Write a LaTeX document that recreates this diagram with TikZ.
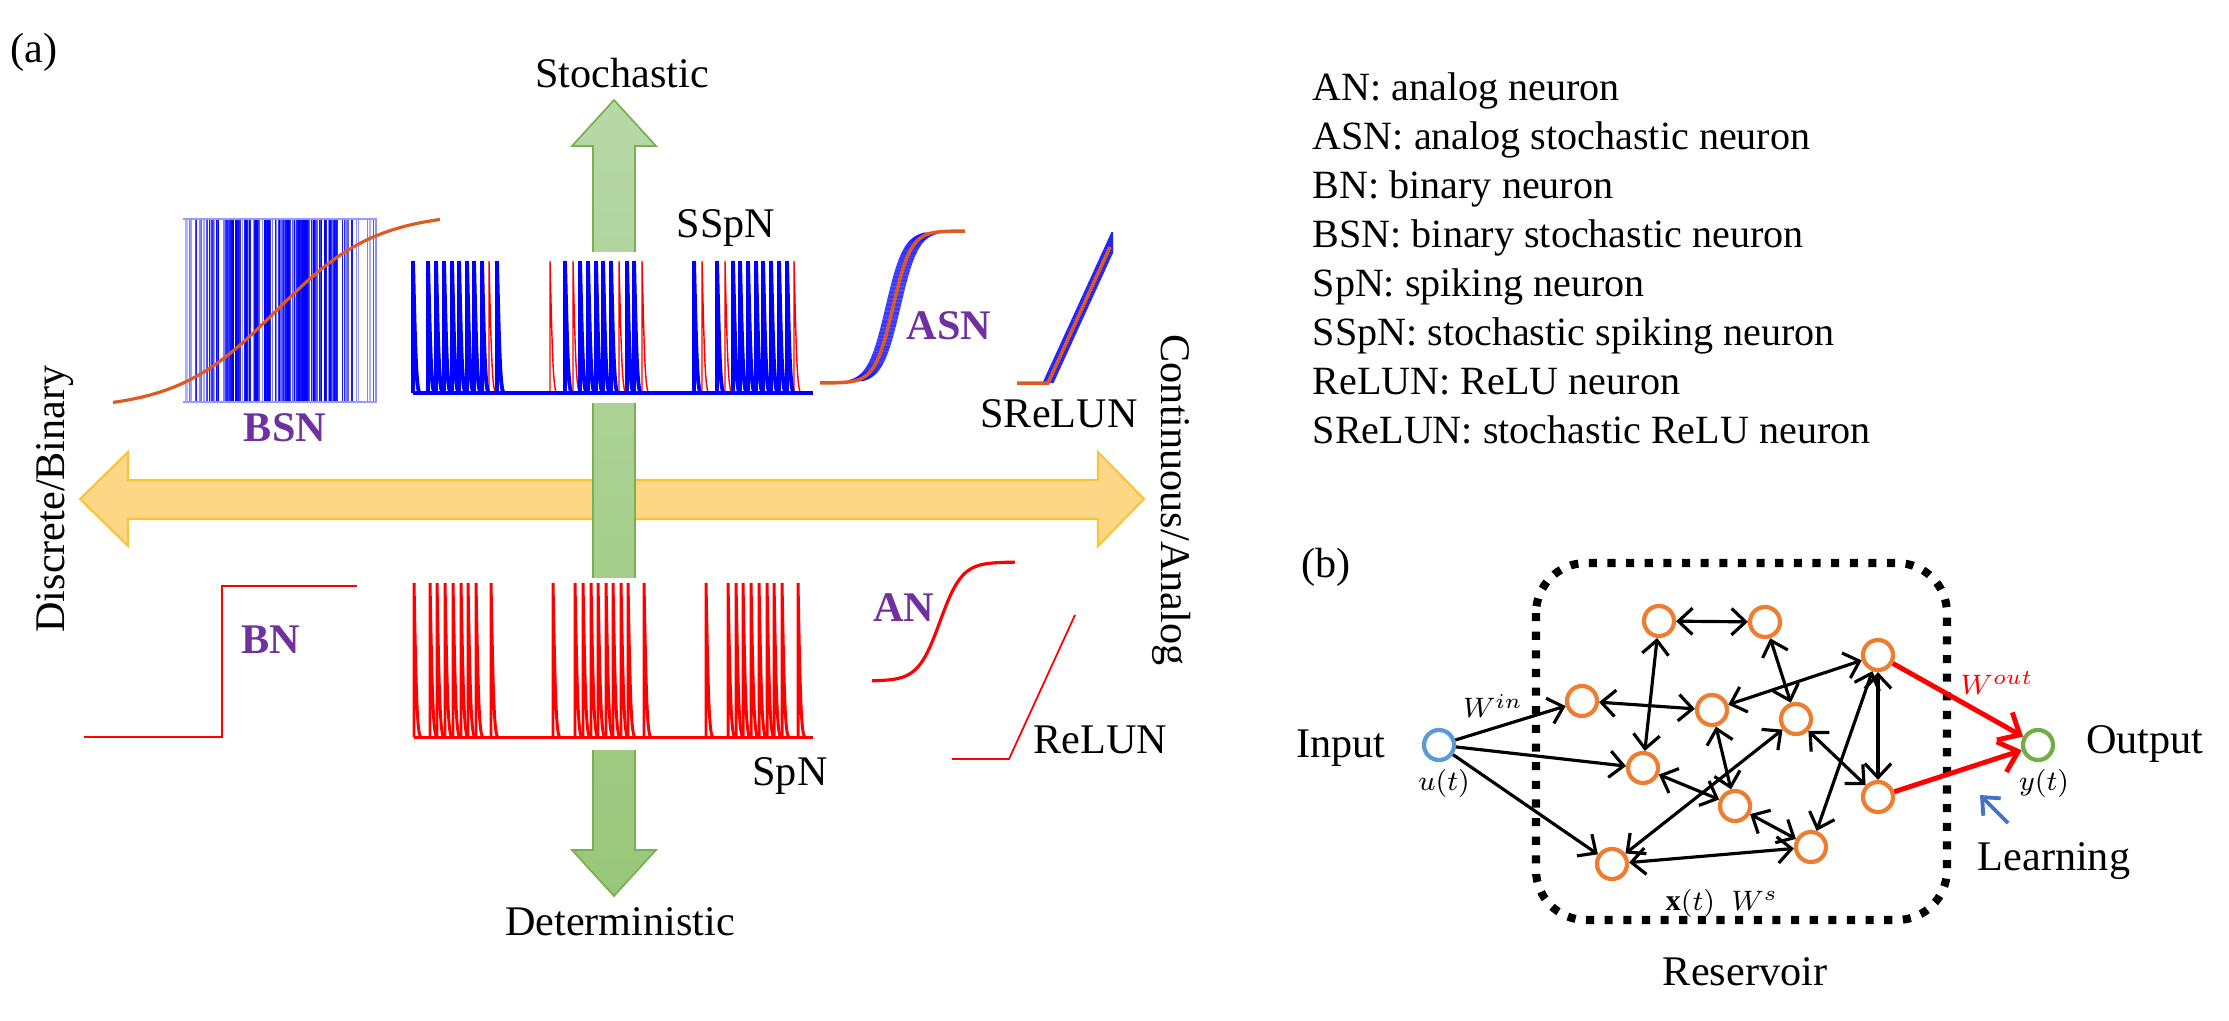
\documentclass[tikz,border=0pt]{standalone}
\usepackage{fontspec}
\setmainfont{Liberation Serif}
\usepackage{tikz}
\usetikzlibrary{positioning, arrows.meta, calc}
\definecolor{nOrange}{RGB}{237, 125, 49}
\definecolor{inBlue}{RGB}{91, 155, 213}
\definecolor{outGreen}{RGB}{112, 173, 71}
\definecolor{learnBlue}{RGB}{68, 114, 196}
\definecolor{sigOrange}{RGB}{222, 90, 30}
\definecolor{typPurple}{RGB}{112, 48, 160}
\definecolor{gTop}{RGB}{184, 216, 167}
\definecolor{gBot}{RGB}{152, 199, 122}
\definecolor{gLine}{RGB}{120, 178, 80}
\definecolor{yFill}{RGB}{253, 214, 134}
\definecolor{yLine}{RGB}{248, 196, 60}
\definecolor{spkRed}{RGB}{255, 0, 0}

\begin{document}
\begin{tikzpicture}[x=0.01cm, y=-0.01cm,
        font=\fontsize{12}{14}\selectfont,
        lbl/.style={inner sep=0pt, anchor=base},
        typ/.style={inner sep=0pt, anchor=base, text=typPurple, font=\fontsize{12}{14}\selectfont\bfseries},
        mth/.style={inner sep=0pt, font=\fontsize{8.5}{10}\selectfont},
        spkB/.style={blue, line width=1.1pt},
        spkR/.style={spkRed, line width=0.4pt},
        spkD/.style={spkRed, line width=0.85pt},
        rn/.style={circle, draw=nOrange, line width=1.2pt, minimum size=0.30cm, inner sep=0pt},
        edge/.style={line width=0.9pt, {Straight Barb[length=4pt, width=7.5pt]}-{Straight Barb[length=4pt, width=7.5pt]}},
        inedge/.style={line width=0.9pt, -{Straight Barb[length=4pt, width=7.5pt]}},
        outedge/.style={spkRed, line width=1.4pt, -{Straight Barb[length=5pt, width=9pt]}},
        resbox/.style={line width=2.3pt, dash pattern=on 2.3pt off 3pt, rounded corners=0.5cm}
    ]
    \useasboundingbox (0,0) rectangle (2229,1020);

    % axes
    \filldraw[draw=yLine, fill=yFill, line width=0.6pt] (80,499) -- (128,452) -- (128,480) -- (1098,480) -- (1098,452)
        -- (1144,499) -- (1098,546) -- (1098,519) -- (128,519) -- (128,546) -- cycle;
    \path[draw=gLine, line width=0.5pt, top color=gTop, bottom color=gBot] (614,100) -- (656,146) -- (635,146)
        -- (635,850) -- (656,850) -- (614,896) -- (572,850) -- (593,850) -- (593,146) -- (572,146) -- cycle;
    \fill[white] (588,252) rectangle (640,403);
    \fill[white] (588,578) rectangle (640,750);

    \node[lbl] (stoch) at (622,87) {Stochastic};
    \node[lbl] (determ) at (620,935) {Deterministic};
    \node[rotate=90, inner sep=0pt] (discr) at (55,499) {Discrete/Binary};
    \node[rotate=-90, inner sep=0pt] (contin) at (1172,500) {Continuous/Analog};
    \node[lbl, anchor=base west] (pa) at (10,62) {(a)};

    % binary stochastic neuron
    \pgfmathsetseed{42}
    \foreach \k in {1,...,60}{
        \pgfmathsetmacro\bx{183+194*rnd}
        \pgfmathsetmacro\bo{0.25+0.45*rnd}
        \draw[blue, opacity=\bo, line width=0.4pt] (\bx,219) -- (\bx,402);
    }
    \foreach \k in {1,...,140}{
        \pgfmathsetmacro\bx{205+160*(rnd+rnd)/2}
        \pgfmathsetmacro\bo{0.4+0.6*rnd}
        \draw[blue, opacity=\bo, line width=0.4pt] (\bx,219) -- (\bx,402);
    }
    \draw[blue!40, line width=0.4pt] (183,219) -- (377,219) (183,402) -- (377,402);
    \draw[sigOrange, line width=0.9pt] plot[domain=113:440, samples=80] (\x, {311-98.7*tanh((\x-276)/100)});
    \node[typ] (bsn) at (285,441) {BSN};

    % stochastic spiking neuron
    \foreach \s in {489,550,573,619,642,702,725,794}
        \draw[spkR] (\s,393) -- (\s,261) .. controls (\s+2,343) and (\s+3,393) .. (\s+7,393);
    \draw[spkB] (413,393) -- (813,393);
    \foreach \s in {413,428,436,444,452,459,467,474,482,497,565,580,588,596,603,611,627,634,694,717,733,740,748,756,763,771,779,787}
        \draw[spkB] (\s,393) -- (\s,261) .. controls (\s+2,343) and (\s+3,393) .. (\s+7,393);
    \node[lbl] (sspn) at (726,237) {SSpN};

    % analog stochastic neuron
    \foreach \d in {-7,-6,...,7}
        \draw[blue, line width=0.3pt, opacity=0.75] plot[domain=855:932, samples=40] ({\x+\d}, {307-76*tanh((\x-893)/18)});
    \draw[sigOrange, line width=1pt] plot[domain=820:965, samples=60] (\x, {307-76*tanh((\x-893)/18)});
    \node[typ] (asn) at (949,339) {ASN};

    % stochastic ReLU neuron
    \begin{scope}
        \clip (1042,232) rectangle (1113,385);
        \foreach \d in {-5,-4,...,5}
            \draw[blue, line width=0.3pt, opacity=0.85] (1048+\d,383) -- (1117+\d,232);
    \end{scope}
    \draw[sigOrange, line width=1pt] (1017,383) -- (1048,383) -- (1110,247);
    \node[lbl] (srelun) at (1059,427) {SReLUN};

    % deterministic neurons
    \draw[spkRed, line width=0.5pt] (84,737) -- (222,737) -- (222,586) -- (357,586);
    \node[typ] (bn) at (271,653) {BN};
    \draw[spkD] (414,737) -- (813,737);
    \foreach \s in {414,430,437,445,453,461,468,476,491,553,575,583,591,598,606,613,621,628,644,706,728,736,743,751,759,767,774,782,798}
        \draw[spkD] (\s,737) -- (\s,583) .. controls (\s+2,687) and (\s+3,737) .. (\s+7,737);
    \node[lbl] (spn) at (790,785) {SpN};
    \draw[spkRed, line width=0.9pt] plot[domain=872:1015, samples=60] (\x, {621.5-59.5*tanh((\x-940)/22)});
    \node[typ] (an) at (904,621) {AN};
    \draw[spkRed, line width=0.5pt] (952,759) -- (1009,759) -- (1075,615);
    \node[lbl, anchor=base west] (relun) at (1033,753) {ReLUN};

    % legend
    \foreach \t [count=\i] in {AN: analog neuron, ASN: analog stochastic neuron, BN: binary neuron,
        BSN: binary stochastic neuron, SpN: spiking neuron, SSpN: stochastic spiking neuron,
        ReLUN: ReLU neuron, SReLUN: stochastic ReLU neuron}
        \node[lbl, anchor=base west, font=\fontsize{11.4}{14}\selectfont] (leg\i) at (1312,{100+49*(\i-1)}) {\t};

    % (b) reservoir
    \node[lbl] (pb) at (1326,577) {(b)};
    \draw[resbox] (1536,563) rectangle (1947,920);
    \node[circle, draw=inBlue, line width=1.2pt, minimum size=0.30cm, inner sep=0pt] (u) at (1439,745) {};
    \node[circle, draw=outGreen, line width=1.2pt, minimum size=0.30cm, inner sep=0pt] (y) at (2038,745) {};
    \node[rn] (r1) at (1659,621) {};
    \node[rn] (r2) at (1765,622) {};
    \node[rn] (r3) at (1582,701) {};
    \node[rn] (r4) at (1712,710) {};
    \node[rn] (r5) at (1796,719) {};
    \node[rn] (r6) at (1643,768) {};
    \node[rn] (r7) at (1735,806) {};
    \node[rn] (r8) at (1612,864) {};
    \node[rn] (r9) at (1811,847) {};
    \node[rn] (r10) at (1878,655) {};
    \node[rn] (r11) at (1878,797) {};
    \foreach \t in {r3,r6,r8}
        \draw[inedge] (u) -- (\t);
    \foreach \a/\b in {r1/r2, r1/r6, r3/r4, r2/r5, r4/r10, r4/r7, r6/r7, r8/r5, r8/r9, r7/r9, r5/r11, r10/r11, r10/r9}
        \draw[edge] (\a) -- (\b);
    \draw[outedge] (r10) -- (y);
    \draw[outedge] (r11) -- (y);
    \coordinate (lrnA) at (2008,823);
    \coordinate (lrnB) at (1980,795);
    \draw[learnBlue, line width=1.1pt, -{Straight Barb[length=4pt, width=7pt]}] (lrnA) -- (lrnB);

    \node[lbl] (inlbl) at (1341,757) {Input};
    \node[lbl] (outlbl) at (2145,753) {Output};
    \node[lbl] (lrnlbl) at (2054,870) {Learning};
    \node[lbl] (reslbl) at (1745,985) {Reservoir};
    \node[mth] (ut) at (1444,783) {$u(t)$};
    \node[mth] (yt) at (2044,783) {$y(t)$};
    \node[mth] (win) at (1493,706) {$W^{in}$};
    \node[mth, text=spkRed] (wout) at (1997,683) {$W^{out}$};
    \node[mth] (xws) at (1722,903) {$\mathbf{x}(t)\;\; W^s$};
\end{tikzpicture}
\end{document}
